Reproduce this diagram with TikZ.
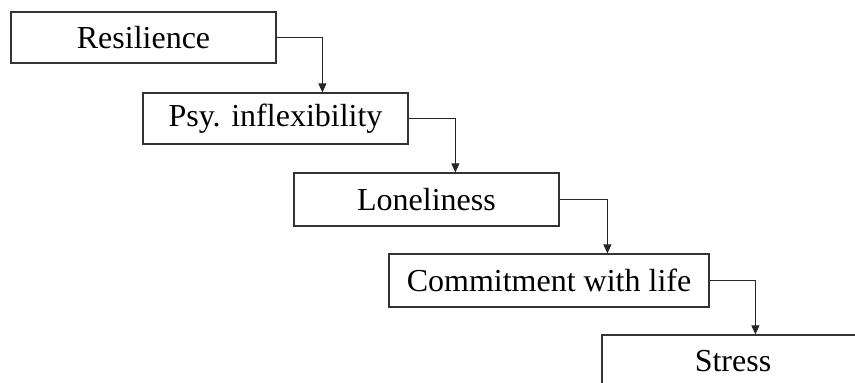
\documentclass[tikz,border=0pt]{standalone}
\usepackage{fontspec}
\setmainfont{Liberation Serif}
\usetikzlibrary{arrows.meta}
\begin{document}
\begin{tikzpicture}[x=1pt,y=-1pt,
  box/.style={draw=black!80,line width=1.2pt,inner sep=0pt,minimum height=51pt,font=\fontsize{32}{38}\selectfont},
  arr/.style={draw=black!85,line width=1pt,-{Triangle[width=8pt,length=9pt]}}]
\useasboundingbox (0,0) rectangle (855,383);
\clip (0,0) rectangle (855,383);
\fill[white] (0,0) rectangle (855,383);
\node[box,minimum width=265pt] (r) at (143.5,37.5) {Resilience};
\node[box,minimum width=265pt] (p) at (275.5,118.5) {Psy. inflexibility};
\node[box,minimum width=265pt,minimum height=53pt] (l) at (426.5,199.5) {Loneliness};
\node[box,minimum width=320pt,minimum height=53pt] (c) at (549,280.5) {Commitment with life};
\node[box,minimum width=262pt,minimum height=53pt] (s) at (733,361.5) {Stress};
\draw[arr] (r.east) -| ([xshift=180pt]p.north west);
\draw[arr] (p.east) -| ([xshift=162pt]l.north west);
\draw[arr] (l.east) -| ([xshift=219pt]c.north west);
\draw[arr] (c.east) -| ([xshift=154pt]s.north west);
\end{tikzpicture}
\end{document}
